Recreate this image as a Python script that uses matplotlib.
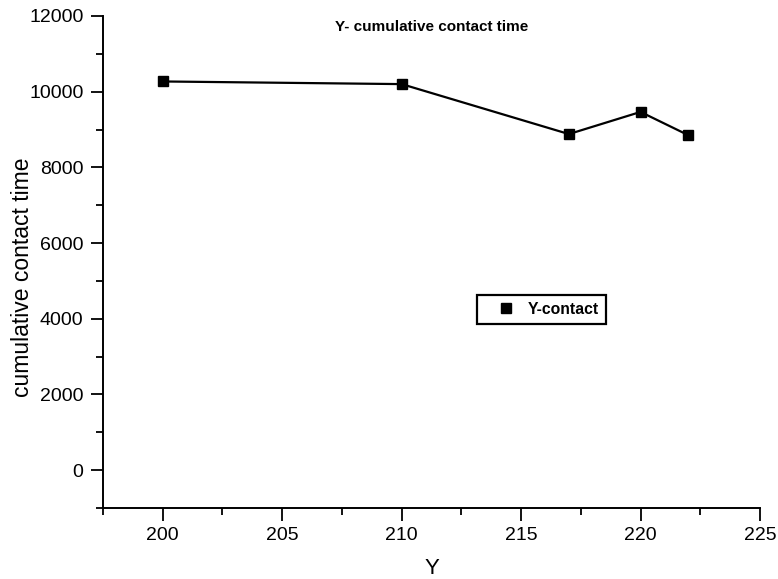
import matplotlib
matplotlib.use("Agg")
import matplotlib.pyplot as plt
from matplotlib.ticker import MultipleLocator

plt.rcParams['font.family'] = ['Liberation Sans', 'DejaVu Sans']

# Measured cumulative contact time per Y position
y_position = [200, 210, 217, 220, 222]
contact_time = [10270, 10200, 8880, 9465, 8850]
series_label = "Y-contact"
title_text = "Y- cumulative contact time"
x_label = "Y"
y_label = "cumulative contact time"

fig = plt.figure(figsize=(7.78, 5.79), dpi=100)
ax = fig.add_axes([0.1324, 0.1226, 0.8445, 0.8498])

ax.plot(y_position, contact_time, color='black', linewidth=1.6,
        marker='s', markersize=7, markerfacecolor='black',
        markeredgecolor='black', label=series_label, clip_on=False)

ax.set_xlim(197.5, 225)
ax.set_ylim(-1000, 12000)
ax.xaxis.set_major_locator(MultipleLocator(5))
ax.xaxis.set_minor_locator(MultipleLocator(2.5))
ax.yaxis.set_major_locator(MultipleLocator(2000))
ax.yaxis.set_minor_locator(MultipleLocator(1000))

for side in ('top', 'right'):
    ax.spines[side].set_visible(False)
for side in ('left', 'bottom'):
    ax.spines[side].set_linewidth(1.4)

ax.tick_params(axis='both', which='major', direction='out', length=9,
               width=1.3, labelsize=14, colors='black', pad=5)
ax.tick_params(axis='both', which='minor', direction='out', length=5,
               width=1.3)

ax.set_xlabel(x_label, fontsize=16, labelpad=10)
ax.set_ylabel(y_label, fontsize=16.5)
ax.yaxis.set_label_coords(-0.122, 0.47)
ax.yaxis.label.set_va('center')

ax.text(0.5, 0.992, title_text, transform=ax.transAxes, ha='center',
        va='top', fontsize=11, fontweight='bold')

leg = ax.legend(loc='center', bbox_to_anchor=(0.667, 0.404),
                prop={'weight': 'bold', 'size': 11.3}, fancybox=False,
                edgecolor='black', framealpha=1, handlelength=2.8,
                handletextpad=0.0, borderpad=0.45, borderaxespad=0)
leg.get_frame().set_linewidth(1.6)
for h in leg.get_lines():
    h.set_linestyle('none')
    h.set_markersize(7)

fig.savefig("out.png", dpi=100, facecolor='white')
